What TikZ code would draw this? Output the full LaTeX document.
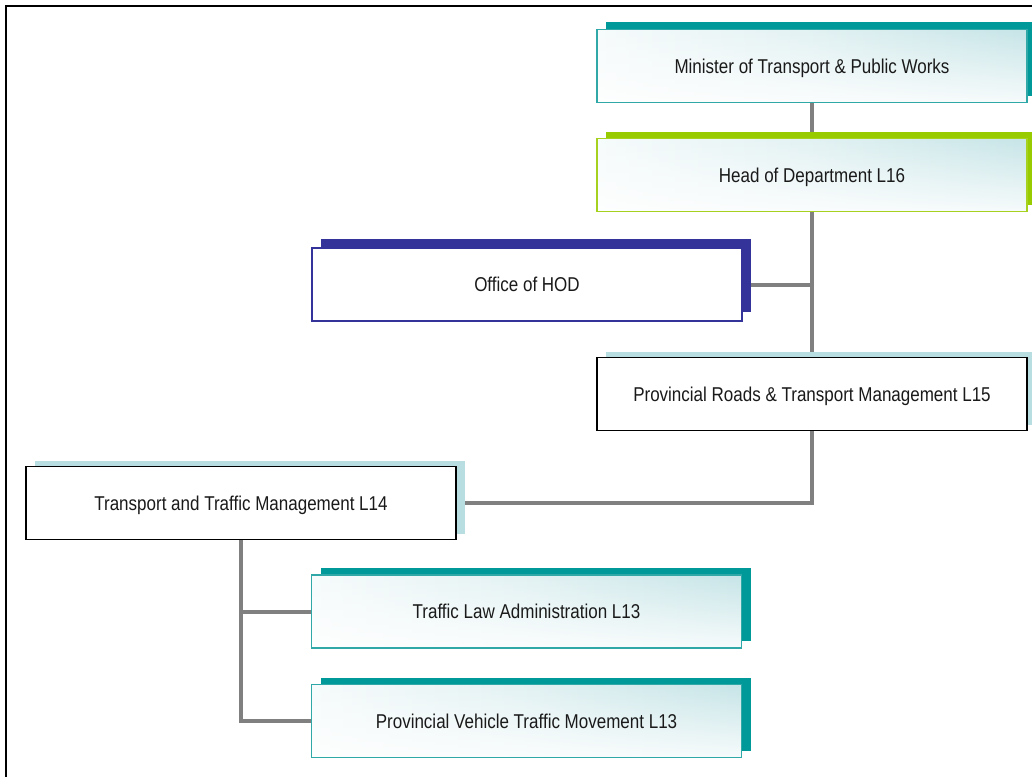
\documentclass[tikz,border=0pt]{standalone}
\usepackage{fontspec}
\setmainfont{Liberation Sans}[FakeStretch=0.85]
\usetikzlibrary{shadows,fadings,backgrounds}

\definecolor{tealdark}{HTML}{009999}
\definecolor{tealline}{HTML}{30A8A8}
\definecolor{limegreen}{HTML}{99CC00}
\definecolor{limeline}{HTML}{A6D11E}
\definecolor{navy}{HTML}{333399}
\definecolor{paleblue}{HTML}{B9DEE1}
\definecolor{wash}{HTML}{BFE1E4}
\definecolor{linkgrey}{HTML}{808080}
\definecolor{inkdark}{HTML}{1A1A1A}

\pgfdeclarehorizontalshading{boxwash}{100bp}{%
  color(0bp)=(white); color(14bp)=(white); color(50bp)=(wash!45!white);
  color(82bp)=(wash); color(100bp)=(wash!85!white)}

% whitening towards the lower edge of the washed boxes
\tikzfading[name=lowerwhite, top color=transparent!100,
  middle color=transparent!85, bottom color=transparent!15]

\tikzset{
  unit/.style={rectangle, minimum width=430pt, minimum height=73pt,
    inner sep=0pt, text height=16pt, text depth=2pt,
    text=inkdark, font=\fontsize{20}{24}\selectfont},
  washed/.style={shading=boxwash,
    path picture={\fill[white, path fading=lowerwhite]
      (path picture bounding box.south west) rectangle
      (path picture bounding box.north east);}},
  tealbox/.style={unit, washed, draw=tealline, line width=1.6pt,
    general shadow={fill=tealdark, shadow xshift=9pt, shadow yshift=7pt}},
  greenbox/.style={unit, washed, draw=limeline, line width=1.6pt,
    general shadow={fill=limegreen, shadow xshift=9pt, shadow yshift=7pt}},
  navybox/.style={unit, fill=white, draw=navy, line width=1.1pt,
    general shadow={fill=navy, shadow xshift=9pt, shadow yshift=9pt}},
  plainbox/.style={unit, fill=white, draw=black, line width=1.6pt,
    general shadow={fill=paleblue, shadow xshift=9pt, shadow yshift=6pt}},
  link/.style={draw=linkgrey, line width=4pt, line join=miter}
}

\begin{document}
\begin{tikzpicture}[x=1pt,y=-1pt]
\useasboundingbox (0,0) rectangle (1032,776);
\clip (0,0) rectangle (1032,776);

% organisation units
\node[tealbox]  (min)  at (812,66)    {Minister of Transport \& Public Works};
\node[greenbox] (hod)  at (812,175)   {Head of Department L16};
\node[navybox]  (off)  at (527,284.5) {Office of HOD};
\node[plainbox] (prt)  at (812,394)   {Provincial Roads \& Transport Management L15};
\node[plainbox] (ttm)  at (241,503)   {Transport and Traffic Management L14};
\node[tealbox]  (tla)  at (526.5,611.5) {Traffic Law Administration L13};
\node[tealbox]  (pvt)  at (526.5,721) {Provincial Vehicle Traffic Movement L13};

\begin{scope}[on background layer]
  % page frame
  \draw[line width=2.5pt, black] (6,6) rectangle (1050,800);
  % reporting lines
  \draw[link] (min.south) -- (hod.north);
  \draw[link] (hod.south) -- (prt.north);
  \draw[link] (off.east) -- (off.east -| hod.south);
  \draw[link] (prt.south) |- (ttm.east);
  \draw[link] (ttm.south) |- (pvt.west);
  \draw[link] (ttm.south |- tla.west) -- (tla.west);
\end{scope}
\end{tikzpicture}
\end{document}
